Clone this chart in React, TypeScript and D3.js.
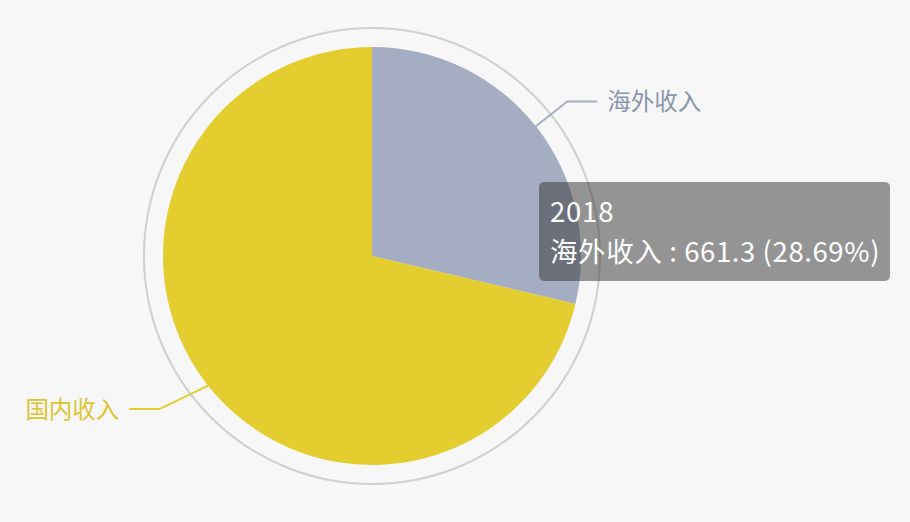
import React from 'react';
import * as d3 from 'd3';

// data (2018 revenue split)
const year = '2018';
const categories = ['海外收入', '国内收入'];
const values = [661.3, 1643.7];
const sliceColors = ['#a4adc2', '#e3cd2f'];
const labelColors = ['#8b95ab', '#dbc530'];

// label line tuning (first radial segment, horizontal segment, angle nudge in degrees)
const labelLen1 = [40, 53];
const labelLen2 = [30, 30];
const labelNudge = [0, 2.6];

const W = 910;
const H = 522;
const cx = 372;
const cy = 256;
const radius = 209;
const ringRadius = 228;
const FONT = '"Noto Sans CJK SC", "Noto Sans", sans-serif';

const App: React.FC = () => {
  const pie = d3.pie<number>().sort(null).value(d => d);
  const arcs = pie(values);
  const arcGen = d3.arc<d3.PieArcDatum<number>>().innerRadius(0).outerRadius(radius);
  const total = d3.sum(values);

  const polar = (angle: number, r: number): [number, number] => [
    cx + r * Math.sin(angle),
    cy - r * Math.cos(angle),
  ];

  const tipIndex = 0;
  const pct = ((values[tipIndex] / total) * 100).toFixed(2);

  return (
    <div style={{ position: 'fixed', left: 0, top: 0 }}>
      <svg width={W} height={H} style={{ display: 'block', background: '#f7f7f7' }}>
        <circle cx={cx} cy={cy} r={ringRadius} fill="none" stroke="#cfcfcf" strokeWidth={2} />
        <g transform={`translate(${cx},${cy})`}>
          {arcs.map((a, i) => (
            <path key={categories[i]} d={arcGen(a) || ''} fill={sliceColors[i]} />
          ))}
        </g>
        {arcs.map((a, i) => {
          const mid = (a.startAngle + a.endAngle) / 2;
          const right = Math.sin(mid) >= 0;
          const p0 = polar(mid, radius);
          const elbowAngle = mid + ((right ? -1 : 1) * labelNudge[i] * Math.PI) / 180;
          const p1 = polar(elbowAngle, radius + labelLen1[i]);
          const p2: [number, number] = [p1[0] + (right ? 1 : -1) * labelLen2[i], p1[1]];
          return (
            <g key={'lbl' + i}>
              <polyline
                points={[p0, p1, p2].map(p => p.join(',')).join(' ')}
                fill="none"
                stroke={sliceColors[i]}
                strokeWidth={2}
              />
              <text
                x={p2[0] + (right ? 10 : -10)}
                y={p2[1]}
                dy="0.36em"
                textAnchor={right ? 'start' : 'end'}
                fill={labelColors[i]}
                fontFamily={FONT}
                fontSize={23.5}
              >
                {categories[i]}
              </text>
            </g>
          );
        })}
        <g transform="translate(539,182)">
          <rect width={351} height={99} rx={5} fill="rgba(50,50,50,0.5)" />
          <text x={11} y={40} fill="#fff" fontFamily={FONT} fontSize={27.5} letterSpacing={0.8}>
            {year}
          </text>
          <text x={11} y={80} fill="#fff" fontFamily={FONT} fontSize={27.5} letterSpacing={0.6}>
            {`${categories[tipIndex]} : ${values[tipIndex]} (${pct}%)`}
          </text>
        </g>
      </svg>
    </div>
  );
};

export default App;
